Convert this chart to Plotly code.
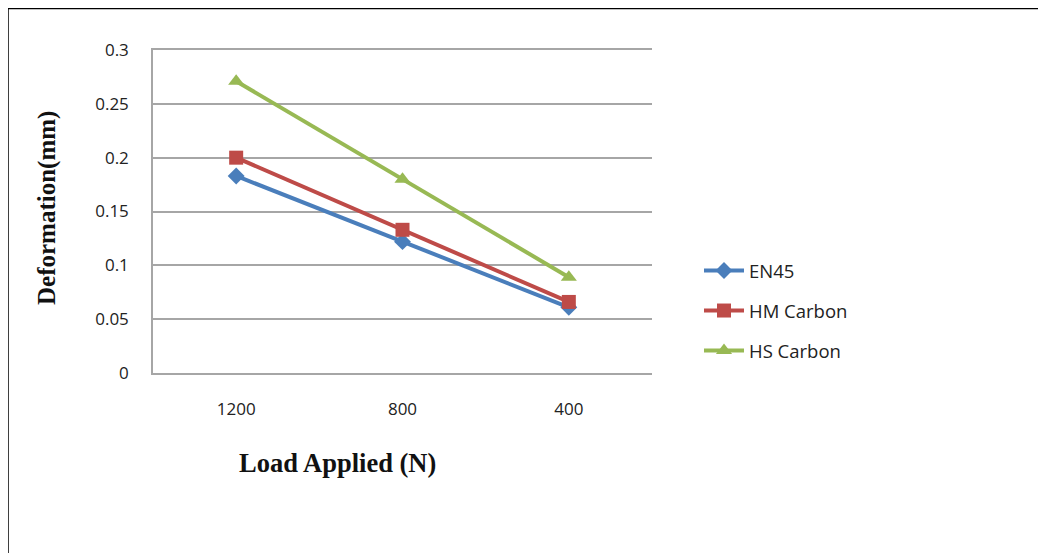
import plotly.graph_objects as go

loads = ["1200", "800", "400"]
en45 = [0.183, 0.122, 0.061]
hm_carbon = [0.200, 0.133, 0.066]
hs_carbon = [0.271, 0.180, 0.089]
y_ticks = [0, 0.05, 0.1, 0.15, 0.2, 0.25, 0.3]
y_tick_text = ["0", "0.05", "0.1", "0.15", "0.2", "0.25", "0.3"]

series = [
    ("EN45", en45, "#4a7ebb", "diamond", 13, "legend"),
    ("HM Carbon", hm_carbon, "#be4b48", "square", 14, "legend2"),
    ("HS Carbon", hs_carbon, "#98b954", "triangle-up", 14, "legend3"),
]

fig = go.Figure()
for name, vals, color, sym, size, lg in series:
    fig.add_trace(go.Scatter(
        x=loads, y=vals, name=name, mode="lines+markers",
        line=dict(color=color, width=4),
        marker=dict(symbol=sym, size=size, color=color),
        legend=lg,
    ))

# page body adds an 8px offset; compensate
OFF = 8
W, H = 1046, 553
L, R, T, B = 153 - OFF, 652 - OFF, 50 - OFF, 373 - OFF


def px_x(x):
    return (x - OFF - L) / (R - L)


def px_y(y):
    return (B - (y - OFF)) / (B - T)


leg_common = dict(
    xanchor="left", yanchor="middle", bgcolor="rgba(0,0,0,0)",
    font=dict(family="Open Sans", size=18.5, color="#222"),
    itemwidth=40,
)
lx = px_x(699)

fig.update_layout(
    width=W, height=H,
    margin=dict(l=L, r=W - R, t=T, b=H - B),
    paper_bgcolor="white", plot_bgcolor="white",
    showlegend=True,
    legend=dict(x=lx, y=px_y(271), **leg_common),
    legend2=dict(x=lx, y=px_y(311), **leg_common),
    legend3=dict(x=lx, y=px_y(351), **leg_common),
    xaxis=dict(
        type="category", range=[-0.5, 2.5], showgrid=False,
        showline=True, mirror=True, linecolor="#a6a6a6", linewidth=1.5,
        ticks="", ticklabelstandoff=20,
        tickfont=dict(family="Open Sans", size=17, color="#222"),
        zeroline=False,
    ),
    yaxis=dict(
        range=[0, 0.3], tickvals=y_ticks, ticktext=y_tick_text,
        showgrid=True, gridcolor="#a6a6a6", gridwidth=1.5,
        showline=True, linecolor="#a6a6a6", linewidth=1.5,
        ticks="", ticklabelstandoff=19, zeroline=False,
        tickfont=dict(family="Open Sans", size=17, color="#222"),
    ),
    shapes=[dict(type="rect", xref="paper", yref="paper",
                 x0=px_x(8), x1=px_x(1080),
                 y0=px_y(600), y1=px_y(8.5),
                 line=dict(color="black", width=1.5), fillcolor="rgba(0,0,0,0)",
                 layer="below")],
    annotations=[
        dict(text="<b>Load Applied (N)</b>", xref="paper", yref="paper",
             x=px_x(337), y=px_y(463), showarrow=False,
             xanchor="center", yanchor="middle",
             font=dict(family="Liberation Serif", size=26.5, color="#111")),
        dict(text="<b>Deformation(mm)</b>", xref="paper", yref="paper",
             x=px_x(47), y=px_y(208), showarrow=False, textangle=-90,
             xanchor="center", yanchor="middle",
             font=dict(family="Liberation Serif", size=25, color="#111")),
    ],
)

fig.write_html("out.html")
